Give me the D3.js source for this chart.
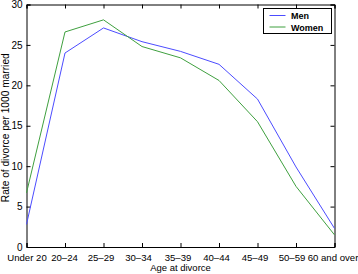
<!DOCTYPE html>
<html>
<head>
<meta charset="utf-8">
<script src="https://cdn.jsdelivr.net/npm/d3@7"></script>
<style>
  body { margin: 0; background: #fff; }
  svg { font-family: "Liberation Sans", Arial, sans-serif; }
</style>
</head>
<body>
<svg id="chart"></svg>
<script>
// data
const ageGroups = ["Under 20", "20\u201324", "25\u201329", "30\u201334", "35\u201339", "40\u201344", "45\u201349", "50\u201359", "60 and over"];
const menRates = [2.8, 24.0, 27.1, 25.4, 24.2, 22.6, 18.3, 9.9, 2.3];
const womenRates = [6.7, 26.6, 28.1, 24.8, 23.4, 20.6, 15.5, 7.5, 1.5];
const yTicks = [0, 5, 10, 15, 20, 25, 30];

const width = 358, height = 274;
const margin = {top: 4.5, right: 23.5, bottom: 27, left: 26.5};
const w = width - margin.left - margin.right;
const h = height - margin.top - margin.bottom;

const svg = d3.select("#chart").attr("width", width).attr("height", height);
const g = svg.append("g").attr("transform", `translate(${margin.left},${margin.top})`);

const x = d3.scalePoint().domain(ageGroups).range([0, w]);
const y = d3.scaleLinear().domain([0, 30]).range([h, 0]);

// axes - ticks point inwards like matlab
const tick = 4;
const xAxis = g.append("g").attr("transform", `translate(0,${h})`)
  .call(d3.axisBottom(x).tickSize(-tick).tickPadding(7));
const yAxis = g.append("g")
  .call(d3.axisLeft(y).tickValues(yTicks).tickSize(-tick).tickPadding(4));
g.append("g").call(d3.axisTop(x).tickSize(-tick).tickFormat(""));
g.append("g").attr("transform", `translate(${w},0)`)
  .call(d3.axisRight(y).tickValues(yTicks).tickSize(-tick).tickFormat(""));

g.selectAll(".domain").attr("stroke", "#000");
g.selectAll(".tick line").attr("stroke", "#000");
g.selectAll(".tick text").attr("fill", "#000").attr("font-size", 10);
xAxis.selectAll(".tick text").attr("font-size", 9.6);
// the original labels sit a little left of their ticks
const labelShift = [0, -1, -3, -4, -3, -3, -3, -4.5, -2];
xAxis.selectAll(".tick text").attr("dx", (d, i) => labelShift[i]);

// lines
const line = d3.line().x((d, i) => x(ageGroups[i])).y(d => y(d));
g.append("path").datum(menRates).attr("d", line)
  .attr("fill", "none").attr("stroke", "#4c4cff").attr("stroke-width", 1);
g.append("path").datum(womenRates).attr("d", line)
  .attr("fill", "none").attr("stroke", "#3fa03f").attr("stroke-width", 1);

// axis labels
svg.append("text").attr("x", margin.left + w / 2).attr("y", height - 3)
  .attr("text-anchor", "middle").attr("font-size", 9.5).text("Age at divorce");
svg.append("text").attr("transform", `translate(9,${margin.top + h / 2 + 2}) rotate(-90)`)
  .attr("text-anchor", "middle").attr("font-size", 10.2).text("Rate of divorce per 1000 married");

// legend
const legend = svg.append("g").attr("transform", "translate(263.5,8.5)");
legend.append("rect").attr("width", 68).attr("height", 25)
  .attr("fill", "#fff").attr("stroke", "#000");
const series = [{name: "Men", color: "#4c4cff"}, {name: "Women", color: "#3fa03f"}];
series.forEach((s, i) => {
  const yy = 7 + i * 11.5;
  legend.append("line").attr("x1", 6).attr("x2", 22).attr("y1", yy).attr("y2", yy)
    .attr("stroke", s.color);
  legend.append("text").attr("x", 27.5).attr("y", yy + 3.5)
    .attr("font-size", 9).attr("font-weight", "bold").text(s.name);
});
</script>
</body>
</html>
